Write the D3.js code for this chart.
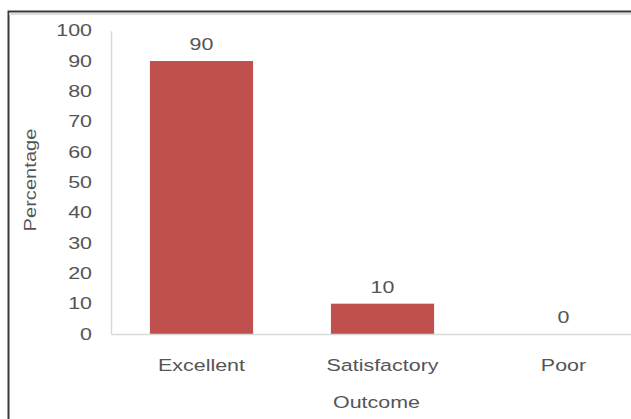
<!DOCTYPE html>
<html>
<head>
<meta charset="utf-8">
<script src="https://cdn.jsdelivr.net/npm/d3@7"></script>
<style>
  html, body { margin: 0; padding: 0; background: #fff; overflow: hidden; }
  svg { display: block; }
  text { font-family: "Liberation Sans", Arial, sans-serif; fill: #555; }
</style>
</head>
<body>
<script>
// Outcome distribution (percent of cases)
const categories = ["Excellent", "Satisfactory", "Poor"];
const percentages = [90, 10, 0];
const yTicks = [0, 10, 20, 30, 40, 50, 60, 70, 80, 90, 100];
const xTitle = "Outcome";
const yTitle = "Percentage";

const W = 631, H = 419;
const FS = 16.5, SX = 1.3;   // font size and horizontal glyph stretch
const svg = d3.select("body").append("svg").attr("width", W).attr("height", H);

// frame
svg.append("rect")
  .attr("x", 8.5).attr("y", 11.5).attr("width", W + 10).attr("height", H + 10)
  .attr("fill", "none").attr("stroke", "#3a3a3a").attr("stroke-width", 2);
svg.append("line")
  .attr("x1", 9).attr("x2", W).attr("y1", 14).attr("y2", 14)
  .attr("stroke", "#ddd").attr("stroke-width", 2);

const plotLeft = 111, plotRight = 654, plotTop = 30.7, plotBottom = 334;
const x = d3.scaleBand().domain(categories).range([plotLeft, plotRight]).paddingInner(0.43).paddingOuter(0.215);
const y = d3.scaleLinear().domain([0, 100]).range([plotBottom, plotTop]);

// y axis
const gy = svg.append("g").attr("transform", `translate(${plotLeft},0)`)
  .call(d3.axisLeft(y).tickValues(yTicks).tickSize(0).tickPadding(0));
gy.select(".domain").attr("stroke", "#d9d9d9").attr("stroke-width", 1.5);
gy.selectAll(".tick text")
  .attr("x", 0)
  .attr("transform", `translate(-19,0) scale(${SX},1)`)
  .style("font-size", FS + "px").style("fill", "#555")
  .style("font-family", '"Liberation Sans", Arial, sans-serif');

// bars
svg.append("g").selectAll("rect").data(categories).join("rect")
  .attr("x", d => x(d))
  .attr("width", x.bandwidth())
  .attr("y", (d, i) => y(percentages[i]))
  .attr("height", (d, i) => plotBottom - y(percentages[i]))
  .attr("fill", "#c0504d");

// x axis
const gx = svg.append("g").attr("transform", `translate(0,${plotBottom})`)
  .call(d3.axisBottom(x).tickSize(0).tickPadding(0));
gx.select(".domain").attr("stroke", "#d9d9d9").attr("stroke-width", 1.5);
gx.selectAll(".tick text")
  .attr("y", 0).attr("dy", null)
  .attr("transform", `translate(0,37) scale(${SX},1)`)
  .style("font-size", FS + "px").style("fill", "#555")
  .style("font-family", '"Liberation Sans", Arial, sans-serif');

// value labels
svg.append("g").selectAll("text").data(categories).join("text")
  .attr("text-anchor", "middle")
  .attr("transform", (d, i) => `translate(${x(d) + x.bandwidth() / 2},${y(percentages[i]) - 11}) scale(${SX},1)`)
  .style("font-size", FS + "px")
  .text((d, i) => percentages[i]);

// axis titles
svg.append("text")
  .attr("text-anchor", "middle")
  .attr("transform", `translate(${(plotLeft + plotRight) / 2 - 6},408) scale(${SX},1)`)
  .style("font-size", FS + "px")
  .text(xTitle);

svg.append("text")
  .attr("text-anchor", "middle")
  .attr("transform", `translate(36,180) rotate(-90) scale(1.22,1)`)
  .style("font-size", FS + "px")
  .text(yTitle);
</script>
</body>
</html>
